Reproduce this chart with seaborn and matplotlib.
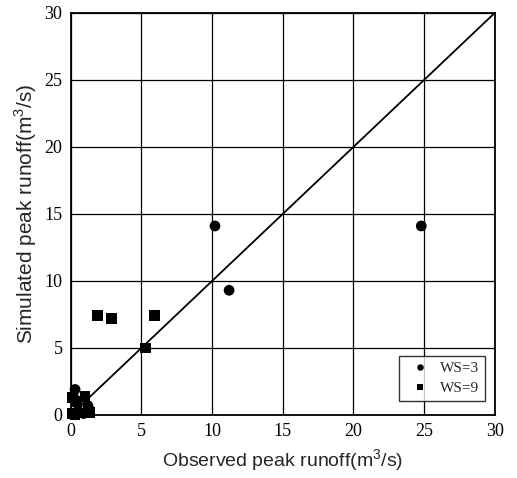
import pandas as pd
import matplotlib
matplotlib.use("Agg")
import matplotlib.pyplot as plt
import seaborn as sns

# WS=3 points (observed, simulated)
ws3_obs = [10.2, 11.2, 24.8, 0.3, 0.2, 1.2, 1.3, 0.9, 0.5]
ws3_sim = [14.1, 9.3, 14.1, 1.9, 1.3, 0.7, 0.4, 0.1, 0.3]
# WS=9 points
ws9_obs = [1.9, 2.9, 5.9, 5.3, 0.1, 0.1, 0.3, 1.0, 1.3, 0.4]
ws9_sim = [7.4, 7.2, 7.4, 5.0, 1.3, 0.1, 0.0, 1.4, 0.2, 1.0]

line_x = [0, 30]

df = pd.DataFrame({
    "obs": ws3_obs + ws9_obs,
    "sim": ws3_sim + ws9_sim,
    "grp": ["WS=3"] * len(ws3_obs) + ["WS=9"] * len(ws9_obs),
})

sns.set_style("white")
plt.rcParams['font.family'] = ['Liberation Serif', 'DejaVu Serif']
plt.rcParams['mathtext.fontset'] = 'custom'
plt.rcParams['mathtext.rm'] = 'Liberation Sans'

fig = plt.figure(figsize=(5.17, 4.78), dpi=100)
ax = fig.add_axes([0.137, 0.132, 0.820, 0.841])

ax.plot(line_x, line_x, color='black', lw=1.3, zorder=2)
sns.scatterplot(data=df, x="obs", y="sim", style="grp", hue="grp",
                markers={"WS=3": "o", "WS=9": "s"},
                palette={"WS=3": "black", "WS=9": "black"},
                s=60, edgecolor='black', linewidth=0, ax=ax, zorder=3,
                clip_on=False)

ax.set_xlim(0, 30)
ax.set_ylim(0, 30)
ax.set_xticks(range(0, 31, 5))
ax.set_yticks(range(0, 31, 5))
ax.grid(True, color='black', lw=0.9)
for s in ax.spines.values():
    s.set_color('black')
    s.set_linewidth(1.3)
ax.tick_params(labelsize=13, colors='black', length=0, pad=6)
ax.set_xlabel(r"Observed peak runoff(m$^3$/s)", fontsize=14,
              family=['Liberation Sans', 'DejaVu Sans'], labelpad=5)
ax.set_ylabel(r"Simulated peak runoff(m$^3$/s)", fontsize=15,
              family=['Liberation Sans', 'DejaVu Sans'], labelpad=4)

leg = ax.legend(loc='lower right', bbox_to_anchor=(0.995, 0.015), fontsize=11,
                frameon=True, fancybox=False, edgecolor='black',
                handletextpad=0.3, borderpad=0.4, labelspacing=0.4,
                markerscale=0.6)
leg.get_frame().set_linewidth(1.0)

fig.savefig("out.png", dpi=100)
